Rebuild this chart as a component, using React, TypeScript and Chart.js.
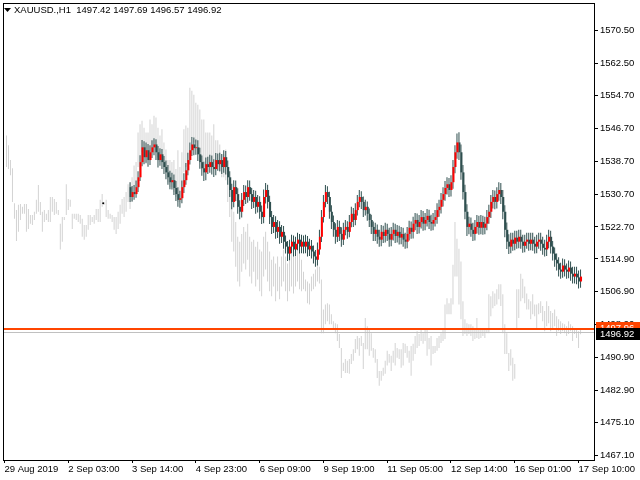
import React, { useEffect, useRef } from "react";
import { Chart, registerables } from "chart.js";

Chart.register(...registerables);

// ---------- header / price info ----------
const SYMBOL_TITLE = "XAUUSD.,H1";
const HEADER_OHLC = ["1497.42", "1497.69", "1496.57", "1496.92"];
const BID = 1496.92;
const ASK = 1497.96;

// ---------- axes ----------
const Y_TICKS = [1467.1, 1475.1, 1482.9, 1490.9, 1498.9, 1506.9, 1514.9, 1522.7, 1530.7, 1538.7, 1546.7, 1554.7, 1562.5, 1570.5];
const X_TICK_BARS = [-1, 31, 63, 95, 127, 159, 191, 223, 255, 287];
const X_TICK_LABELS = ["29 Aug 2019", "2 Sep 03:00", "3 Sep 14:00", "4 Sep 23:00", "6 Sep 09:00", "9 Sep 19:00", "11 Sep 05:00", "12 Sep 14:00", "16 Sep 01:00", "17 Sep 10:00"];

// ---------- light gray price bars (high / low) ----------
const GRAY_HIGH = [
  1545.0, 1542.6, 1539.0, 1537.0, 1528.5, 1526.8, 1528.1, 1528.3, 1527.6, 1528.3,
  1528.3, 1527.1, 1525.6, 1525.6, 1526.4, 1529.3, 1532.9, 1528.8, 1526.4, 1526.8,
  1525.9, 1526.8, 1530.0, 1530.0, 1529.5, 1528.8, 1526.8, 1523.5, 1525.1, 1525.1,
  1533.1, 1529.5, 1529.3, 1525.9, 1525.9, 1525.9, 1525.9, 1525.6, 1524.7, 1523.2,
  1523.2, 1525.6, 1525.6, 1525.1, 1525.6, 1527.1, 1527.1, 1529.3, 1530.7, 1528.8,
  1529.3, 1526.8, 1525.9, 1525.6, 1525.1, 1525.1, 1526.4, 1528.1, 1529.5, 1530.0,
  1531.2, 1533.1, 1533.6, 1534.8, 1537.7, 1538.5, 1545.7, 1547.7, 1548.6, 1546.9,
  1545.7, 1545.7, 1548.9, 1547.7, 1549.8, 1549.4, 1546.9, 1545.0, 1546.5, 1543.3,
  1541.6, 1539.0, 1539.0, 1538.5, 1539.0, 1536.8, 1541.4, 1537.3, 1540.9, 1546.5,
  1547.4, 1546.9, 1556.6, 1555.9, 1554.9, 1553.0, 1552.5, 1551.3, 1548.9, 1548.9,
  1545.7, 1545.7, 1545.7, 1545.0, 1547.7, 1543.8, 1543.8, 1542.8, 1540.4, 1540.4,
  1541.6, 1537.3, 1532.4, 1528.8, 1526.4, 1523.9, 1520.3, 1519.1, 1521.0, 1522.7,
  1521.5, 1523.5, 1520.3, 1519.1, 1519.6, 1517.9, 1519.1, 1517.2, 1516.7, 1520.3,
  1521.5, 1519.1, 1516.7, 1514.7, 1515.5, 1513.8, 1515.5, 1513.0, 1515.5, 1517.2,
  1515.5, 1513.8, 1516.7, 1517.9, 1516.2, 1517.2, 1518.6, 1516.7, 1514.7, 1511.8,
  1509.9, 1509.4, 1508.9, 1510.6, 1511.3, 1512.3, 1513.8, 1513.0, 1509.9, 1502.6,
  1503.8, 1504.1, 1503.8, 1501.4, 1499.7, 1499.2, 1499.0, 1496.6, 1493.2, 1489.6,
  1490.5, 1490.1, 1490.5, 1491.7, 1492.9, 1495.4, 1496.1, 1495.6, 1496.1, 1494.4,
  1500.5, 1498.5, 1497.8, 1496.8, 1493.2, 1492.9, 1490.5, 1487.6, 1487.6, 1488.4,
  1490.1, 1492.5, 1491.7, 1491.3, 1492.5, 1494.4, 1493.2, 1492.9, 1492.9, 1494.4,
  1494.2, 1493.7, 1492.5, 1493.7, 1494.2, 1496.1, 1497.3, 1496.6, 1497.8, 1496.8,
  1497.8, 1497.8, 1495.6, 1496.1, 1493.7, 1493.7, 1495.6, 1496.1, 1496.8, 1497.8,
  1503.8, 1505.3, 1504.1, 1505.3, 1513.5, 1523.9, 1519.8, 1517.4, 1514.3, 1504.6,
  1500.2, 1499.2, 1499.0, 1499.0, 1498.5, 1498.0, 1500.5, 1498.0, 1497.8, 1498.0,
  1497.8, 1498.0, 1506.3, 1505.8, 1507.0, 1506.5, 1507.5, 1508.7, 1508.7, 1506.3,
  1499.0, 1496.8, 1492.0, 1492.9, 1490.8, 1489.3, 1507.5, 1507.5, 1511.3, 1510.1,
  1508.2, 1506.5, 1505.1, 1504.6, 1506.3, 1503.8, 1503.8, 1504.1, 1504.6, 1503.4,
  1502.2, 1504.6, 1503.4, 1502.2, 1501.7, 1502.6, 1500.9, 1500.2, 1499.7, 1499.2,
  1499.0, 1498.5, 1499.7, 1499.0, 1498.5, 1497.8, 1497.8, 1497.3, 1497.69,
];
const GRAY_LOW = [
  1537.3, 1536.8, 1535.3, 1528.8, 1524.7, 1519.3, 1521.5, 1524.4, 1525.9, 1525.9,
  1521.5, 1522.2, 1523.5, 1523.2, 1524.4, 1525.9, 1526.4, 1525.6, 1521.5, 1523.9,
  1524.4, 1523.9, 1523.9, 1526.4, 1525.6, 1525.9, 1525.6, 1517.2, 1519.1, 1524.4,
  1525.6, 1526.8, 1527.6, 1522.2, 1524.7, 1524.4, 1523.9, 1523.5, 1520.3, 1519.6,
  1520.3, 1522.0, 1523.2, 1523.9, 1523.5, 1524.4, 1523.9, 1523.9, 1527.6, 1528.1,
  1525.1, 1524.7, 1524.7, 1523.9, 1522.0, 1521.0, 1522.2, 1523.5, 1525.9, 1525.1,
  1526.4, 1528.8, 1527.1, 1528.8, 1531.2, 1532.4, 1537.3, 1538.5, 1540.9, 1539.7,
  1538.5, 1539.7, 1540.9, 1540.9, 1542.1, 1541.4, 1539.7, 1538.5, 1539.0, 1537.3,
  1536.0, 1533.6, 1532.4, 1532.4, 1531.2, 1530.0, 1528.8, 1528.8, 1532.4, 1536.0,
  1537.3, 1538.5, 1543.3, 1544.5, 1543.3, 1543.3, 1542.1, 1540.9, 1538.5, 1538.5,
  1537.3, 1537.3, 1538.5, 1537.3, 1538.5, 1537.3, 1537.3, 1536.0, 1534.8, 1534.8,
  1534.1, 1528.8, 1525.1, 1519.1, 1516.7, 1513.0, 1509.4, 1508.2, 1511.8, 1513.8,
  1512.3, 1514.7, 1510.6, 1508.9, 1511.8, 1508.2, 1509.9, 1507.0, 1505.8, 1510.6,
  1512.3, 1509.4, 1507.0, 1505.8, 1508.2, 1504.6, 1507.0, 1505.1, 1508.2, 1509.4,
  1507.0, 1504.6, 1507.0, 1508.2, 1506.5, 1508.2, 1509.4, 1507.5, 1507.0, 1507.5,
  1507.0, 1504.1, 1503.8, 1507.0, 1507.5, 1508.2, 1509.4, 1508.9, 1496.8, 1496.8,
  1499.0, 1499.7, 1499.0, 1499.0, 1497.8, 1496.8, 1494.9, 1493.2, 1485.9, 1487.6,
  1487.1, 1487.1, 1486.9, 1489.3, 1490.1, 1492.0, 1492.9, 1491.3, 1493.7, 1488.1,
  1492.9, 1492.9, 1491.3, 1492.5, 1490.8, 1489.6, 1485.9, 1484.0, 1485.2, 1486.4,
  1486.9, 1488.9, 1489.6, 1487.6, 1489.6, 1488.9, 1490.8, 1490.5, 1488.4, 1488.9,
  1492.0, 1490.8, 1489.6, 1486.4, 1490.1, 1491.7, 1493.2, 1493.7, 1494.9, 1494.2,
  1494.9, 1491.3, 1492.9, 1488.9, 1491.7, 1492.0, 1492.5, 1493.2, 1494.4, 1494.9,
  1495.4, 1501.4, 1501.4, 1501.4, 1503.8, 1510.6, 1510.6, 1503.8, 1500.2, 1496.1,
  1496.6, 1496.1, 1496.6, 1496.1, 1494.9, 1495.4, 1495.6, 1495.4, 1495.6, 1496.1,
  1495.6, 1496.8, 1496.8, 1500.9, 1502.9, 1503.4, 1503.8, 1505.1, 1503.4, 1496.8,
  1491.7, 1491.7, 1487.6, 1488.9, 1485.2, 1485.7, 1498.0, 1500.5, 1504.6, 1505.3,
  1504.1, 1502.6, 1502.6, 1500.2, 1501.4, 1500.9, 1498.0, 1501.4, 1501.7, 1499.7,
  1497.3, 1498.5, 1499.2, 1497.3, 1497.8, 1498.5, 1496.1, 1497.3, 1496.6, 1497.3,
  1496.8, 1496.1, 1496.6, 1497.3, 1494.9, 1496.6, 1495.6, 1493.2, 1496.57,
];

// ---------- overlay candles (bar index of first candle, then OHLC) ----------
const MAIN_START = 62;
const MAIN_OPEN = [
  1532.4, 1530.0, 1531.2, 1530.7, 1532.4, 1534.8, 1538.5, 1542.1, 1539.7, 1541.4,
  1539.0, 1540.9, 1542.1, 1542.8, 1540.9, 1539.0, 1540.4, 1538.5, 1537.3, 1536.0,
  1534.8, 1533.6, 1534.1, 1532.2, 1530.7, 1529.3, 1529.7, 1532.4, 1534.1, 1536.5,
  1539.0, 1541.4, 1542.8, 1541.9, 1542.1, 1540.4, 1538.5, 1537.0, 1536.0, 1538.0,
  1537.3, 1538.5, 1537.3, 1536.8, 1539.0, 1538.0, 1539.0, 1537.3, 1539.7, 1537.3,
  1534.8, 1531.7, 1528.8, 1532.4, 1530.7, 1527.6, 1526.4, 1529.3, 1531.2, 1530.0,
  1532.4, 1530.7, 1528.8, 1530.0, 1527.6, 1528.8, 1526.4, 1525.1, 1530.0, 1531.7,
  1528.8, 1525.1, 1522.7, 1523.9, 1521.5, 1522.7, 1520.3, 1521.5, 1519.1, 1517.9,
  1516.2, 1517.9, 1519.1, 1517.2, 1518.6, 1519.6, 1517.9, 1519.1, 1517.9, 1519.1,
  1517.2, 1518.1, 1516.7, 1515.5, 1514.7, 1517.2, 1520.3, 1525.1, 1528.8, 1531.2,
  1530.0, 1526.4, 1523.9, 1522.0, 1520.3, 1522.7, 1521.0, 1519.6, 1522.0, 1522.7,
  1521.5, 1523.9, 1525.9, 1524.4, 1526.8, 1528.8, 1530.0, 1528.8, 1526.8, 1527.6,
  1525.9, 1524.4, 1522.7, 1521.0, 1522.0, 1520.3, 1519.6, 1521.5, 1520.5, 1522.0,
  1521.0, 1519.6, 1521.0, 1522.0, 1520.5, 1521.5, 1520.1, 1521.0, 1519.6, 1519.1,
  1521.0, 1522.5, 1521.5, 1523.5, 1524.4, 1522.7, 1523.9, 1525.1, 1523.5, 1524.4,
  1525.4, 1523.9, 1523.5, 1524.4, 1525.1, 1526.8, 1527.6, 1529.3, 1530.7, 1532.2,
  1533.1, 1531.7, 1533.6, 1537.3, 1540.9, 1543.3, 1540.9, 1536.0, 1531.2, 1526.4,
  1522.7, 1523.5, 1522.0, 1521.0, 1522.7, 1523.9, 1522.5, 1523.9, 1522.5, 1523.5,
  1525.1, 1526.4, 1528.8, 1530.0, 1528.8, 1530.7, 1531.7, 1530.0, 1526.4, 1522.0,
  1519.1, 1517.9, 1519.6, 1518.6, 1520.1, 1519.1, 1520.3, 1519.1, 1518.1, 1519.1,
  1519.6, 1518.6, 1519.6, 1518.6, 1517.9, 1519.1, 1519.6, 1518.6, 1517.6, 1517.2,
  1519.1, 1520.3, 1517.9, 1516.2, 1514.7, 1513.8, 1512.3, 1511.8, 1513.3, 1512.3,
  1511.8, 1512.8, 1511.3, 1510.6, 1511.3, 1510.4, 1509.4,
];
const MAIN_HIGH = [
  1533.6, 1532.7, 1532.9, 1534.0, 1536.3, 1540.2, 1543.9, 1543.6, 1543.3, 1542.9,
  1542.6, 1543.8, 1544.3, 1544.1, 1542.4, 1541.9, 1541.7, 1540.0, 1538.9, 1537.8,
  1536.4, 1535.9, 1535.5, 1533.9, 1532.4, 1531.5, 1534.0, 1535.8, 1538.3, 1540.8,
  1543.3, 1544.6, 1544.5, 1544.0, 1543.8, 1542.0, 1540.1, 1538.6, 1539.6, 1539.8,
  1540.3, 1540.1, 1539.2, 1540.7, 1540.6, 1540.8, 1540.5, 1541.4, 1541.2, 1538.9,
  1536.3, 1533.2, 1534.1, 1534.0, 1532.1, 1529.2, 1531.0, 1532.9, 1532.8, 1534.1,
  1534.0, 1532.2, 1531.7, 1531.5, 1530.5, 1530.2, 1527.9, 1531.8, 1533.4, 1533.0,
  1530.3, 1526.6, 1525.6, 1525.3, 1524.4, 1524.1, 1523.2, 1522.9, 1520.6, 1519.3,
  1519.6, 1520.8, 1520.6, 1520.3, 1521.3, 1521.0, 1520.8, 1520.6, 1520.8, 1520.5,
  1519.8, 1519.5, 1518.2, 1517.1, 1518.9, 1522.0, 1526.8, 1530.5, 1532.9, 1532.6,
  1531.3, 1528.0, 1525.5, 1523.6, 1524.4, 1524.2, 1522.6, 1523.7, 1524.4, 1524.1,
  1525.6, 1527.6, 1527.3, 1528.5, 1530.5, 1531.7, 1531.4, 1530.1, 1529.3, 1528.9,
  1527.2, 1525.7, 1524.0, 1523.7, 1523.3, 1522.0, 1523.2, 1523.0, 1523.7, 1523.5,
  1522.5, 1522.7, 1523.7, 1523.5, 1523.2, 1523.0, 1522.7, 1522.5, 1521.3, 1522.7,
  1524.2, 1524.0, 1525.2, 1526.1, 1526.0, 1525.6, 1526.8, 1526.6, 1526.1, 1527.1,
  1526.9, 1525.7, 1526.1, 1526.8, 1528.5, 1529.3, 1531.0, 1532.4, 1533.9, 1534.8,
  1534.6, 1535.3, 1539.0, 1542.6, 1545.5, 1545.8, 1542.8, 1537.8, 1533.0, 1528.2,
  1525.2, 1525.0, 1523.7, 1524.4, 1525.6, 1525.4, 1525.6, 1525.4, 1525.2, 1526.8,
  1528.1, 1530.5, 1531.7, 1531.6, 1532.4, 1533.6, 1533.4, 1531.7, 1528.0, 1523.8,
  1520.9, 1521.3, 1521.3, 1521.8, 1521.8, 1522.0, 1522.0, 1520.8, 1520.8, 1521.3,
  1521.3, 1521.3, 1521.3, 1520.3, 1520.8, 1521.3, 1521.3, 1520.3, 1519.6, 1520.8,
  1522.0, 1521.8, 1519.3, 1517.7, 1516.2, 1515.3, 1514.0, 1515.0, 1514.8, 1513.8,
  1514.5, 1514.3, 1513.0, 1513.0, 1513.0, 1512.1, 1512.3,
];
const MAIN_LOW = [
  1528.8, 1528.9, 1529.3, 1529.8, 1531.2, 1533.9, 1537.5, 1538.0, 1538.2, 1537.4,
  1537.8, 1539.5, 1540.2, 1539.0, 1537.2, 1537.6, 1536.8, 1535.6, 1534.3, 1533.0,
  1531.9, 1531.8, 1530.5, 1529.0, 1527.6, 1527.4, 1528.5, 1531.0, 1533.0, 1535.3,
  1537.9, 1540.0, 1540.2, 1540.3, 1538.8, 1536.9, 1535.2, 1533.9, 1534.1, 1535.6,
  1535.9, 1535.5, 1534.9, 1535.3, 1536.4, 1536.3, 1535.6, 1535.9, 1535.5, 1533.0,
  1530.0, 1527.0, 1527.5, 1529.0, 1525.9, 1524.6, 1525.0, 1527.8, 1528.3, 1528.6,
  1529.1, 1527.1, 1527.3, 1525.9, 1526.2, 1524.7, 1523.4, 1523.6, 1528.4, 1527.2,
  1523.4, 1521.0, 1521.2, 1519.8, 1520.0, 1518.6, 1518.8, 1517.4, 1516.2, 1514.4,
  1514.6, 1516.3, 1515.5, 1515.6, 1517.0, 1516.2, 1516.3, 1516.2, 1516.3, 1515.5,
  1515.6, 1515.0, 1513.8, 1513.0, 1513.3, 1515.9, 1519.0, 1523.8, 1527.5, 1528.3,
  1524.7, 1522.2, 1520.3, 1518.6, 1519.0, 1519.3, 1517.9, 1518.3, 1520.7, 1519.8,
  1520.2, 1522.6, 1522.7, 1523.1, 1525.5, 1527.5, 1527.1, 1525.1, 1525.5, 1524.2,
  1522.7, 1521.0, 1519.3, 1519.3, 1518.6, 1517.9, 1518.0, 1518.8, 1518.9, 1519.3,
  1517.9, 1518.0, 1519.4, 1518.8, 1518.9, 1518.4, 1518.5, 1517.9, 1517.4, 1517.5,
  1519.4, 1519.8, 1519.9, 1521.9, 1521.0, 1521.1, 1522.3, 1521.8, 1521.9, 1522.8,
  1522.2, 1521.8, 1521.9, 1522.8, 1523.5, 1525.2, 1526.0, 1527.7, 1529.1, 1530.6,
  1530.0, 1530.1, 1532.0, 1535.8, 1539.3, 1539.0, 1534.2, 1529.4, 1524.6, 1520.5,
  1520.9, 1520.3, 1519.3, 1519.4, 1521.1, 1520.8, 1520.9, 1520.8, 1520.9, 1521.9,
  1523.5, 1524.9, 1527.2, 1527.0, 1527.2, 1529.1, 1528.3, 1524.6, 1520.2, 1517.3,
  1516.1, 1516.3, 1516.9, 1517.0, 1517.4, 1517.5, 1517.4, 1516.4, 1516.5, 1517.4,
  1516.9, 1517.0, 1516.9, 1516.2, 1516.3, 1517.4, 1516.9, 1515.9, 1515.5, 1515.6,
  1517.5, 1516.2, 1514.5, 1513.0, 1512.1, 1510.6, 1510.1, 1510.3, 1510.6, 1510.1,
  1510.2, 1509.6, 1508.9, 1508.9, 1508.7, 1507.7, 1507.9,
];
const MAIN_CLOSE = [
  1530.0, 1531.2, 1530.7, 1532.4, 1534.8, 1538.5, 1542.1, 1539.7, 1541.4, 1539.0,
  1540.9, 1542.1, 1542.8, 1540.9, 1539.0, 1540.4, 1538.5, 1537.3, 1536.0, 1534.8,
  1533.6, 1534.1, 1532.2, 1530.7, 1529.3, 1529.7, 1532.4, 1534.1, 1536.5, 1539.0,
  1541.4, 1542.8, 1541.9, 1542.1, 1540.4, 1538.5, 1537.0, 1536.0, 1538.0, 1537.3,
  1538.5, 1537.3, 1536.8, 1539.0, 1538.0, 1539.0, 1537.3, 1539.7, 1537.3, 1534.8,
  1531.7, 1528.8, 1532.4, 1530.7, 1527.6, 1526.4, 1529.3, 1531.2, 1530.0, 1532.4,
  1530.7, 1528.8, 1530.0, 1527.6, 1528.8, 1526.4, 1525.1, 1530.0, 1531.7, 1528.8,
  1525.1, 1522.7, 1523.9, 1521.5, 1522.7, 1520.3, 1521.5, 1519.1, 1517.9, 1516.2,
  1517.9, 1519.1, 1517.2, 1518.6, 1519.6, 1517.9, 1519.1, 1517.9, 1519.1, 1517.2,
  1518.1, 1516.7, 1515.5, 1514.7, 1517.2, 1520.3, 1525.1, 1528.8, 1531.2, 1530.0,
  1526.4, 1523.9, 1522.0, 1520.3, 1522.7, 1521.0, 1519.6, 1522.0, 1522.7, 1521.5,
  1523.9, 1525.9, 1524.4, 1526.8, 1528.8, 1530.0, 1528.8, 1526.8, 1527.6, 1525.9,
  1524.4, 1522.7, 1521.0, 1522.0, 1520.3, 1519.6, 1521.5, 1520.5, 1522.0, 1521.0,
  1519.6, 1521.0, 1522.0, 1520.5, 1521.5, 1520.1, 1521.0, 1519.6, 1519.1, 1521.0,
  1522.5, 1521.5, 1523.5, 1524.4, 1522.7, 1523.9, 1525.1, 1523.5, 1524.4, 1525.4,
  1523.9, 1523.5, 1524.4, 1525.1, 1526.8, 1527.6, 1529.3, 1530.7, 1532.2, 1533.1,
  1531.7, 1533.6, 1537.3, 1540.9, 1543.3, 1540.9, 1536.0, 1531.2, 1526.4, 1522.7,
  1523.5, 1522.0, 1521.0, 1522.7, 1523.9, 1522.5, 1523.9, 1522.5, 1523.5, 1525.1,
  1526.4, 1528.8, 1530.0, 1528.8, 1530.7, 1531.7, 1530.0, 1526.4, 1522.0, 1519.1,
  1517.9, 1519.6, 1518.6, 1520.1, 1519.1, 1520.3, 1519.1, 1518.1, 1519.1, 1519.6,
  1518.6, 1519.6, 1518.6, 1517.9, 1519.1, 1519.6, 1518.6, 1517.6, 1517.2, 1519.1,
  1520.3, 1517.9, 1516.2, 1514.7, 1513.8, 1512.3, 1511.8, 1513.3, 1512.3, 1511.8,
  1512.8, 1511.3, 1510.6, 1511.3, 1510.4, 1509.4, 1510.6,
];

// small black marker seen on the chart
const MARK_BAR = 48.5;
const MARK_PRICE = 1528.5;

// ---------- view ----------
const X_MIN = -1.25;
const X_MAX = 294.75;
const Y_MIN = 1465.89;
const Y_MAX = 1577.04;
const AXIS_FONT_FAMILY = "'Liberation Sans', Arial, sans-serif";
const AXIS_FONT_SIZE = 9.5;

const mt4Overlay = {
  id: "mt4Overlay",
  afterDatasetsDraw(chart: any) {
    const { ctx, chartArea } = chart;
    const y = chart.scales.y;
    ctx.save();
    const by = Math.floor(y.getPixelForValue(BID)) + 0.5;
    ctx.strokeStyle = "#C0C0C0";
    ctx.lineWidth = 1;
    ctx.beginPath();
    ctx.moveTo(chartArea.left, by);
    ctx.lineTo(chartArea.right, by);
    ctx.stroke();
    const ay = Math.floor(y.getPixelForValue(ASK));
    ctx.fillStyle = "#FF4500";
    ctx.fillRect(chartArea.left, ay, chartArea.right - chartArea.left, 2);
    ctx.restore();
  },
  afterDraw(chart: any) {
    const { ctx, chartArea } = chart;
    const y = chart.scales.y;
    ctx.save();
    // frame
    ctx.strokeStyle = "#000";
    ctx.lineWidth = 1;
    ctx.strokeRect(chartArea.left - 0.5, chartArea.top - 0.5, chartArea.right - chartArea.left + 1, chartArea.bottom - chartArea.top + 1);
    // header
    ctx.fillStyle = "#000";
    ctx.beginPath();
    ctx.moveTo(4, 8);
    ctx.lineTo(11, 8);
    ctx.lineTo(7.5, 12);
    ctx.closePath();
    ctx.fill();
    ctx.font = `${AXIS_FONT_SIZE}px ${AXIS_FONT_FAMILY}`;
    ctx.textBaseline = "middle";
    ctx.textAlign = "left";
    ctx.fillText(`${SYMBOL_TITLE}  ${HEADER_OHLC.join(" ")}`, 14, 10.5);
    // price labels
    const ayc = Math.round(y.getPixelForValue(ASK));
    ctx.fillStyle = "#FF4500";
    ctx.fillRect(596, ayc - 6, 44, 12);
    ctx.fillStyle = "#FFFFFF";
    ctx.fillText(ASK.toFixed(2), 600, ayc);
    const byc = Math.round(y.getPixelForValue(BID));
    ctx.fillStyle = "#000000";
    ctx.fillRect(596, byc - 5, 44, 12);
    ctx.fillStyle = "#FFFFFF";
    ctx.fillText(BID.toFixed(2), 600, byc + 1);
    ctx.restore();
  },
};

export default function App() {
  const ref = useRef<HTMLCanvasElement | null>(null);

  useEffect(() => {
    const canvas = ref.current;
    if (!canvas) return;

    const grayData = GRAY_HIGH.map((h, i) => ({ x: i, y: [GRAY_LOW[i], h] }));
    const wickData = MAIN_HIGH.map((h, k) => ({ x: MAIN_START + k, y: [MAIN_LOW[k], h] }));
    const bullData: any[] = [];
    const bearData: any[] = [];
    MAIN_CLOSE.forEach((c, k) => {
      const o = MAIN_OPEN[k];
      const pt = { x: MAIN_START + k, y: [o, c] };
      if (c > o) bullData.push(pt);
      else bearData.push(pt);
    });

    const barCommon = {
      grouped: false,
      borderWidth: 0,
      inflateAmount: 0,
      borderSkipped: false,
      yAxisID: "y",
    };

    const chart = new Chart(canvas, {
      type: "bar",
      data: {
        datasets: [
          { ...barCommon, label: "bull", data: bullData, xAxisID: "xb", backgroundColor: "#FF0000", barThickness: 2, order: 1 } as any,
          { ...barCommon, label: "bear", data: bearData, xAxisID: "xb", backgroundColor: "#2F4F4F", barThickness: 2, order: 1 } as any,
          { ...barCommon, label: "wick", data: wickData, xAxisID: "x", backgroundColor: "#2F4F4F", barThickness: 1, order: 2 } as any,
          { ...barCommon, label: "gray", data: grayData, xAxisID: "x", backgroundColor: "#D3D3D3", barThickness: 1, order: 3 } as any,
          {
            type: "scatter",
            label: "mark",
            data: [{ x: MARK_BAR, y: MARK_PRICE }],
            xAxisID: "x",
            yAxisID: "y",
            pointRadius: 1,
            pointBackgroundColor: "#000",
            pointBorderWidth: 0,
            order: 0,
          } as any,
        ],
      },
      options: {
        responsive: false,
        animation: false,
        devicePixelRatio: 1,
        events: [],
        layout: { padding: { left: 2, top: 1, right: 0, bottom: 0 } },
        plugins: { legend: { display: false }, tooltip: { enabled: false } },
        scales: {
          x: {
            type: "linear",
            position: "bottom",
            min: X_MIN,
            max: X_MAX,
            offset: false,
            afterBuildTicks: (s: any) => {
              s.ticks = X_TICK_BARS.map((v) => ({ value: v }));
            },
            afterFit: (s: any) => {
              s.height = 20;
              s.paddingLeft = 0;
              s.paddingRight = 0;
              s.paddingTop = 0;
              s.paddingBottom = 0;
            },
            grid: { offset: false, drawOnChartArea: false, drawTicks: true, tickLength: 3, color: "#000" },
            border: { display: false },
            ticks: {
              autoSkip: false,
              maxRotation: 0,
              minRotation: 0,
              align: "start",
              padding: 1,
              color: "#000",
              font: { family: AXIS_FONT_FAMILY, size: AXIS_FONT_SIZE },
              callback: (v: any) => {
                const j = X_TICK_BARS.indexOf(Number(v));
                return j >= 0 ? X_TICK_LABELS[j] : "";
              },
            },
          },
          xb: {
            type: "linear",
            display: false,
            min: X_MIN - 0.25,
            max: X_MAX - 0.25,
            offset: false,
            grid: { offset: false },
          },
          y: {
            type: "linear",
            position: "right",
            min: Y_MIN,
            max: Y_MAX,
            beginAtZero: false,
            afterBuildTicks: (s: any) => {
              s.ticks = Y_TICKS.map((v) => ({ value: v }));
            },
            afterFit: (s: any) => {
              s.width = 46;
              s.paddingLeft = 0;
              s.paddingRight = 0;
              s.paddingTop = 0;
              s.paddingBottom = 0;
            },
            grid: { drawOnChartArea: false, drawTicks: true, tickLength: 4, color: "#000" },
            border: { display: false },
            ticks: {
              autoSkip: false,
              padding: 2,
              color: "#000",
              font: { family: AXIS_FONT_FAMILY, size: AXIS_FONT_SIZE },
              callback: (v: any) => Number(v).toFixed(2),
            },
          },
        },
      } as any,
      plugins: [mt4Overlay],
    });

    return () => chart.destroy();
  }, []);

  return (
    <div style={{ position: "fixed", left: 0, top: 0, width: 640, height: 480, background: "#fff" }}>
      <canvas ref={ref} width={640} height={480} style={{ display: "block" }} />
    </div>
  );
}
